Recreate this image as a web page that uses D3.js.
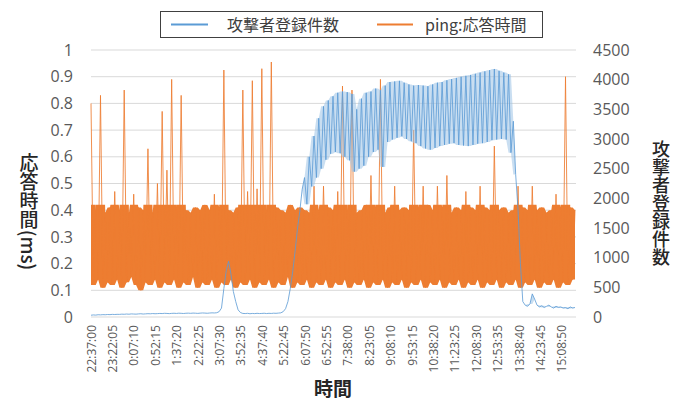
<!DOCTYPE html>
<html><head><meta charset="utf-8">
<script src="https://cdn.jsdelivr.net/npm/d3@7"></script>
<style>
body{margin:0;background:#fff}
text{font-family:"Open Sans","Noto Sans CJK JP",sans-serif;}
.cjk{font-family:"Noto Sans CJK JP","Open Sans",sans-serif;}
</style>
</head><body>
<svg id="chart" width="686" height="402"></svg>
<script>
// ---- data ----
const seriesNames = ["攻撃者登録件数", "ping:応答時間"];
const sampleStepSec = 300;      // one value every 5 minutes, starting 22:37:00
const tickStepSec = 2705;       // category label every 45:05
const xTickLabels = ["22:37:00","23:22:05","0:07:10","0:52:15","1:37:20","2:22:25","3:07:30","3:52:35","4:37:40","5:22:45","6:07:50","6:52:55","7:38:00","8:23:05","9:08:10","9:53:15","10:38:20","11:23:25","12:08:30","12:53:35","13:38:40","14:23:45","15:08:50"];
const leftTicks = [0,0.1,0.2,0.3,0.4,0.5,0.6,0.7,0.8,0.9,1];
const rightTicks = [0,500,1000,1500,2000,2500,3000,3500,4000,4500];

// ping response time (ms)
const pingTime = [
0.80,0.12,0.40,0.14,0.83,0.11,0.39,0.13,0.41,0.12,
0.47,0.14,0.40,0.11,0.85,0.13,0.39,0.15,0.46,0.12,
0.41,0.10,0.40,0.13,0.63,0.12,0.39,0.14,0.50,0.11,
0.77,0.13,0.55,0.12,0.89,0.14,0.41,0.11,0.83,0.13,
0.40,0.12,0.39,0.15,0.41,0.11,0.40,0.13,0.42,0.12,
0.40,0.14,0.46,0.11,0.41,0.13,0.925,0.12,0.40,0.14,
0.39,0.11,0.41,0.13,0.85,0.12,0.47,0.14,0.885,0.11,
0.48,0.13,0.93,0.12,0.40,0.14,0.955,0.11,0.41,0.13,
0.40,0.12,0.39,0.15,0.42,0.11,0.40,0.13,0.41,0.12,
0.40,0.14,0.39,0.11,0.49,0.13,0.40,0.12,0.49,0.14,
0.41,0.11,0.40,0.13,0.47,0.12,0.865,0.14,0.40,0.11,
0.85,0.13,0.39,0.12,0.40,0.14,0.42,0.11,0.53,0.13,
0.41,0.12,0.89,0.14,0.39,0.11,0.41,0.13,0.49,0.12,
0.40,0.14,0.41,0.11,0.40,0.13,0.70,0.12,0.41,0.14,
0.49,0.11,0.42,0.13,0.40,0.12,0.49,0.14,0.41,0.11,
0.53,0.13,0.39,0.12,0.41,0.14,0.40,0.11,0.47,0.13,
0.41,0.12,0.40,0.14,0.49,0.11,0.41,0.13,0.40,0.12,
0.64,0.14,0.40,0.11,0.41,0.13,0.39,0.12,0.40,0.14,
0.49,0.11,0.41,0.13,0.40,0.12,0.49,0.14,0.40,0.11,
0.41,0.13,0.39,0.12,0.40,0.14,0.46,0.11,0.41,0.13,
0.90,0.12,0.41,0.14,0.40
];

// attacker registration count
const regCount = [
30,35,32,38,36,40,38,42,40,44,
42,45,44,48,46,50,47,52,50,48,
52,55,50,53,56,54,58,55,57,60,
58,62,60,57,61,63,60,64,62,59,
63,65,62,66,64,61,65,68,66,63,
67,70,68,72,90,150,480,780,940,720,
430,260,120,75,60,58,62,55,60,57,
62,58,60,63,58,62,60,64,62,66,
70,90,140,260,480,760,1100,1480,1780,2150,
2350,1900,2700,2200,3050,2350,3350,2500,3550,2650,
3650,2750,3720,2780,3780,2760,3800,2700,3790,2640,
3760,2450,3500,2500,3680,2550,3780,2700,3800,2780,
3850,2820,3820,2530,3900,2950,3960,2990,3970,3020,
3980,3045,3950,3000,3920,2960,3900,2930,3910,2880,
3900,2840,3890,2820,3920,2850,3950,2880,3960,2900,
3990,2920,4010,2930,4030,2900,4050,2890,4065,2880,
4080,2900,4100,2920,4120,2930,4140,2950,4160,2980,
4180,2990,4150,3000,4120,2990,4090,2770,3300,2400,
1800,900,260,200,180,220,390,300,200,170,
190,160,180,200,170,150,180,160,170,150,
160,140,170,150,160
];

// ---- chart ----
const svg = d3.select("#chart");
const plot = {left: 91, right: 575, top: 50, bottom: 317};
const blue = "#5B9BD5", orange = "#ED7D31";

const tMax = (pingTime.length - 1) * sampleStepSec;
const x = d3.scaleLinear().domain([0, tMax]).range([plot.left, plot.right]);
const yL = d3.scaleLinear().domain([0, 1]).range([plot.bottom, plot.top]);
const yR = d3.scaleLinear().domain([0, 4500]).range([plot.bottom, plot.top]);

// gridlines
svg.append("g").selectAll("line").data(leftTicks).join("line")
  .attr("x1", plot.left).attr("x2", plot.right + 1)
  .attr("y1", d => yL(d)).attr("y2", d => yL(d))
  .attr("stroke", "#D9D9D9").attr("stroke-width", 1);

// left axis
const gL = svg.append("g").attr("transform", `translate(${plot.left},0)`)
  .call(d3.axisLeft(yL).tickValues(leftTicks).tickSize(0).tickPadding(18).tickFormat(d3.format("~g")));
gL.select(".domain").remove();
gL.selectAll("text").attr("font-size", 16).attr("fill", "#595959").style("font-family", '"Open Sans",sans-serif');

// right axis
const gR = svg.append("g").attr("transform", `translate(${plot.right},0)`)
  .call(d3.axisRight(yR).tickValues(rightTicks).tickSize(0).tickPadding(18).tickFormat(d3.format("d")));
gR.select(".domain").remove();
gR.selectAll("text").attr("font-size", 16).attr("fill", "#595959").style("font-family", '"Open Sans",sans-serif');

// bottom axis
const gX = svg.append("g").attr("transform", `translate(0,${plot.bottom})`)
  .call(d3.axisBottom(x).tickValues(xTickLabels.map((_, i) => i * tickStepSec))
    .tickSize(0).tickFormat((d, i) => xTickLabels[i]));
gX.select(".domain").remove();
gX.selectAll("text")
  .attr("transform", "rotate(-90)")
  .attr("x", -8).attr("y", 0).attr("dy", "0.35em")
  .style("text-anchor", "end")
  .attr("font-size", 12).attr("fill", "#595959")
  .style("font-family", '"Open Sans",sans-serif');

// clip for the dense band fill (keeps spikes thin)
const defs = svg.append("defs");
defs.append("clipPath").attr("id", "bandClip").append("rect")
  .attr("x", plot.left).attr("width", plot.right - plot.left + 1)
  .attr("y", yL(0.42)).attr("height", plot.bottom - yL(0.42));

const tx = (d, i) => x(i * sampleStepSec);
// swing envelope: where a sample is a local peak/trough, span it to its neighbours
function swing(arr, i) {
  const v = arr[i];
  const a = i > 0 ? arr[i - 1] : v, b = i < arr.length - 1 ? arr[i + 1] : v;
  if ((v >= a && v >= b) || (v <= a && v <= b)) {
    return [Math.min(v, a, b), Math.max(v, a, b)];
  }
  return [v, v];
}

// orange series
const pingArea = d3.area().x(tx)
  .y0((d, i) => yL(swing(pingTime, i)[0]))
  .y1((d, i) => yL(swing(pingTime, i)[1]));
svg.append("path").datum(pingTime).attr("d", pingArea)
  .attr("fill", orange).attr("stroke", "none").attr("clip-path", "url(#bandClip)");
svg.append("path").datum(pingTime).attr("d", d3.line().x(tx).y(d => yL(d)))
  .attr("fill", "none").attr("stroke", orange).attr("stroke-width", 1)
  .attr("stroke-opacity", 0.85);

// blue series (swing band only where it oscillates)
const regArea = d3.area().x(tx)
  .defined((d, i) => i >= 89 ? true : false)
  .y0((d, i) => yR(swing(regCount, i)[0]))
  .y1((d, i) => yR(swing(regCount, i)[1]));
svg.append("path").datum(regCount).attr("d", regArea)
  .attr("fill", "#9DC3E6").attr("fill-opacity", 0.55).attr("stroke", "none");
svg.append("path").datum(regCount).attr("d", d3.line().x(tx).y(d => yR(d)))
  .attr("fill", "none").attr("stroke", blue).attr("stroke-width", 0.9)
  .attr("stroke-opacity", 0.9).attr("stroke-linejoin", "round");

// axis titles
svg.append("text").attr("class", "cjk")
  .attr("x", 333).attr("y", 396).attr("text-anchor", "middle")
  .attr("font-size", 19).attr("font-weight", "bold").attr("fill", "#262626")
  .text("時間");

svg.append("text").attr("class", "cjk")
  .attr("x", 29).attr("y", 212).attr("text-anchor", "middle")
  .style("writing-mode", "vertical-rl")
  .attr("font-size", 19).attr("font-weight", 500).attr("fill", "#262626")
  .text("応答時間(ms)");

svg.append("text").attr("class", "cjk")
  .attr("x", 661).attr("y", 203).attr("text-anchor", "middle")
  .style("writing-mode", "vertical-rl")
  .attr("font-size", 18).attr("font-weight", 500).attr("fill", "#262626")
  .text(seriesNames[0]);

// legend
const lg = svg.append("g");
lg.append("rect").attr("x", 160.5).attr("y", 11.5).attr("width", 382).attr("height", 26)
  .attr("fill", "#fff").attr("stroke", "#404040").attr("stroke-width", 1);
const legendItems = [
  {name: seriesNames[0], color: blue, x0: 171, x1: 208, tx: 227},
  {name: seriesNames[1], color: orange, x0: 377, x1: 413, tx: 425}
];
legendItems.forEach(it => {
  lg.append("line").attr("x1", it.x0).attr("x2", it.x1).attr("y1", 24.5).attr("y2", 24.5)
    .attr("stroke", it.color).attr("stroke-width", 2);
  lg.append("text").attr("class", "cjk").attr("x", it.tx).attr("y", 30.5)
    .attr("font-size", 16).attr("fill", "#404040").text(it.name);
});
</script>
</body></html>
